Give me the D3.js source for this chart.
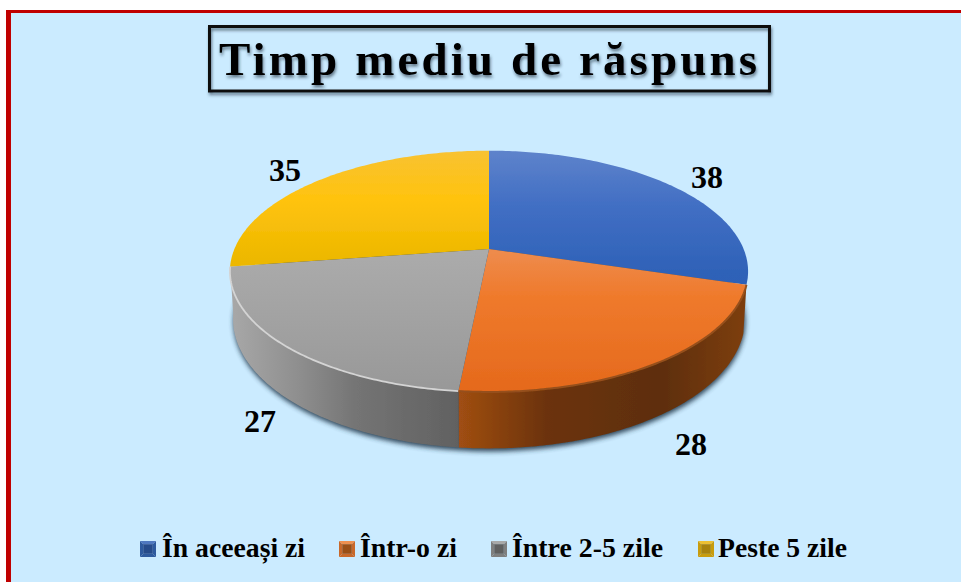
<!DOCTYPE html>
<html><head><meta charset="utf-8">
<script src="https://cdn.jsdelivr.net/npm/d3@7/dist/d3.min.js"></script>
<style>html,body{margin:0;padding:0;background:#fff;overflow:hidden}svg{display:block}
text{font-family:"Liberation Serif",serif;font-weight:bold;fill:#000}</style>
</head><body><svg id="c" width="961" height="582"></svg>
<script>
const chartTitle = "Timp mediu de răspuns";
const categories = ["În aceeași zi", "Într-o zi", "Între 2-5 zile", "Peste 5 zile"];
const values = [38, 28, 27, 35];
const colors = ["#3A68C0", "#ED7A2C", "#A3A3A3", "#FFC000"];

const legendX = [140, 339, 491, 698];
const legendTextX = [162, 360, 512, 718];
const legendTextW = [143, 97, 151, 129];
const labelPos = [[707,188],[691,455],[260,432],[285,181]];

const svg = d3.select("#c");
const defs = svg.append("defs");
function uGrad(id, stops){
  const g = defs.append("linearGradient").attr("id",id).attr("gradientUnits","userSpaceOnUse")
    .attr("x1",0).attr("y1",151).attr("x2",0).attr("y2",392);
  stops.forEach(s=>g.append("stop").attr("offset",s[0]).attr("stop-color",s[1]));
}
uGrad("t0",[[0,"#5E83CB"],[.22,"#426FC4"],[.5,"#2F62B8"],[1,"#2A5BAE"]]);
uGrad("t1",[[.42,"#EE8B4C"],[.6,"#EF7A2C"],[1,"#E5691C"]]);
uGrad("t2",[[.42,"#ABABAB"],[.7,"#A2A2A2"],[1,"#989898"]]);
uGrad("t3",[[0,"#F8C232"],[.2,"#FFC30E"],[.45,"#EDB800"],[1,"#E0AC00"]]);
function hGrad(id,x1,x2,stops){
  const g = defs.append("linearGradient").attr("id",id).attr("gradientUnits","userSpaceOnUse")
    .attr("x1",x1).attr("y1",0).attr("x2",x2).attr("y2",0);
  stops.forEach(s=>g.append("stop").attr("offset",s[0]).attr("stop-color",s[1]));
}
hGrad("s1",459,748,[[0,"#A04E12"],[.3,"#6C330B"],[.7,"#5E2E0A"],[1,"#7E3F0E"]]);
hGrad("s2",231,459,[[0,"#A8A8A8"],[.3,"#8E8E8E"],[.55,"#747474"],[1,"#616161"]]);
defs.append("filter").attr("id","blurS").attr("x","-10%").attr("y","-10%").attr("width","120%").attr("height","120%")
  .append("feGaussianBlur").attr("stdDeviation",2.6);
defs.append("filter").attr("id","blur1").append("feGaussianBlur").attr("stdDeviation",0.7);
defs.append("filter").attr("id","soft").attr("x","-5%").attr("y","-5%").attr("width","110%").attr("height","110%")
  .append("feGaussianBlur").attr("stdDeviation",0.45);
const ts = defs.append("filter").attr("id","tshadow").attr("x","-5%").attr("y","-20%").attr("width","110%").attr("height","150%");
ts.append("feDropShadow").attr("dx",1).attr("dy",2.5).attr("stdDeviation",1.5).attr("flood-color","#1a2a3a").attr("flood-opacity",.6);

// background and frame
svg.append("rect").attr("width",961).attr("height",582).attr("fill","#fff");
svg.append("rect").attr("x",6).attr("y",10).attr("width",955).attr("height",572).attr("fill","#C00000");
svg.append("rect").attr("x",11).attr("y",13).attr("width",950).attr("height",569).attr("fill","#CBEBFF");

// title
svg.append("rect").attr("x",209.5).attr("y",26.5).attr("width",560).attr("height",64.5)
  .attr("fill","none").attr("stroke","#111").attr("stroke-width",3).attr("filter","url(#tshadow)");
svg.append("text").attr("x",219).attr("y",75)
  .attr("font-size",47).attr("textLength",538).attr("lengthAdjust","spacing")
  .attr("filter","url(#tshadow)").text(chartTitle);

// perspective projection of the pie disc
const cx=489, cy=249, A=254.6, B=116.5, k=0.185, D=46;
const proj = (t,drop)=>{
  const X=Math.sin(t), Y=Math.cos(t), w=1+k*Y;
  const s = drop?0.988:1;
  return [cx+s*A*X/w, cy-B*Y/w+(drop?D/w:0)];
};
const pie = d3.pie().sort(null).value(d=>d)(values);
const line = d3.line();
const arcPts=(a,b,drop)=>d3.range(0,121).map(i=>proj(a+(b-a)*i/120,drop));

// shadow below the base
const full=arcPts(0,2*Math.PI,true).map(p=>[p[0]+0.5,p[1]+3]);
svg.append("path").attr("d",line(full)+"Z").attr("fill","#24394c").attr("opacity",.9).attr("filter","url(#blurS)");

const gPie=svg.append("g").attr("filter","url(#soft)");
// side walls of the slices that face the viewer
const gSide=gPie.append("g");
pie.forEach((d,i)=>{
  const mid=(d.startAngle+d.endAngle)/2;
  if(mid<Math.PI/2||mid>3*Math.PI/2) return;
  const pts=arcPts(d.startAngle,d.endAngle,false).concat(arcPts(d.startAngle,d.endAngle,true).reverse());
  gSide.append("path").attr("d",line(pts)+"Z").attr("fill",`url(#s${i})`);
});
// top faces
const gTop=gPie.append("g");
pie.forEach((d,i)=>{
  const pts=[[cx,cy]].concat(arcPts(d.startAngle,d.endAngle,false));
  gTop.append("path").attr("d",line(pts)+"Z").attr("fill",`url(#t${i})`);
});
// bevel along the rim of the grey and orange slices
const g2=pie[2], g1=pie[1];
gPie.append("path").attr("d",line(arcPts(g2.startAngle,g2.endAngle,false)))
  .attr("fill","none").attr("stroke","#D4D4D4").attr("stroke-width",1.8).attr("filter","url(#blur1)");
gPie.append("path").attr("d",line(arcPts(g1.startAngle,g1.endAngle,false)))
  .attr("fill","none").attr("stroke","#96501C").attr("stroke-width",2).attr("filter","url(#blur1)");

// value labels
svg.append("g").selectAll("text").data(values).join("text")
  .attr("x",(d,i)=>labelPos[i][0]).attr("y",(d,i)=>labelPos[i][1])
  .attr("text-anchor","middle").attr("font-size",32).text(d=>d);

// legend
const swTop=["#5078C0","#EE9050","#A8A8A8","#EDC030"];
const swSide=["#2F5A9E","#C8682A","#7E7E7E","#C89C10"];
const swDark=["#264C8A","#9A5018","#5E5E5E","#A88208"];
const sw=16, swY=541;
const leg=svg.append("g");
categories.forEach((c,i)=>{
  const x=legendX[i], y=swY, o=sw*.2;
  const tl=[x,y],tr=[x+sw,y],br=[x+sw,y+sw],bl=[x,y+sw];
  const il=[x+o,y+o],ir=[x+sw-o,y+o],jr=[x+sw-o,y+sw-o],jl=[x+o,y+sw-o];
  const s=leg.append("g").attr("filter","url(#soft)");
  s.append("path").attr("d",line([tl,tr,ir,il])+"Z").attr("fill",swTop[i]);
  s.append("path").attr("d",line([tr,br,jr,ir])+"Z").attr("fill",swSide[i]);
  s.append("path").attr("d",line([bl,br,jr,jl])+"Z").attr("fill",swSide[i]);
  s.append("path").attr("d",line([tl,bl,jl,il])+"Z").attr("fill",swSide[i]);
  s.append("path").attr("d",line([il,ir,jr,jl])+"Z").attr("fill",swDark[i]);
  leg.append("text").attr("x",legendTextX[i]).attr("y",557).attr("font-size",27)
    .attr("textLength",legendTextW[i]).attr("lengthAdjust","spacingAndGlyphs").text(c);
});
</script></body></html>
